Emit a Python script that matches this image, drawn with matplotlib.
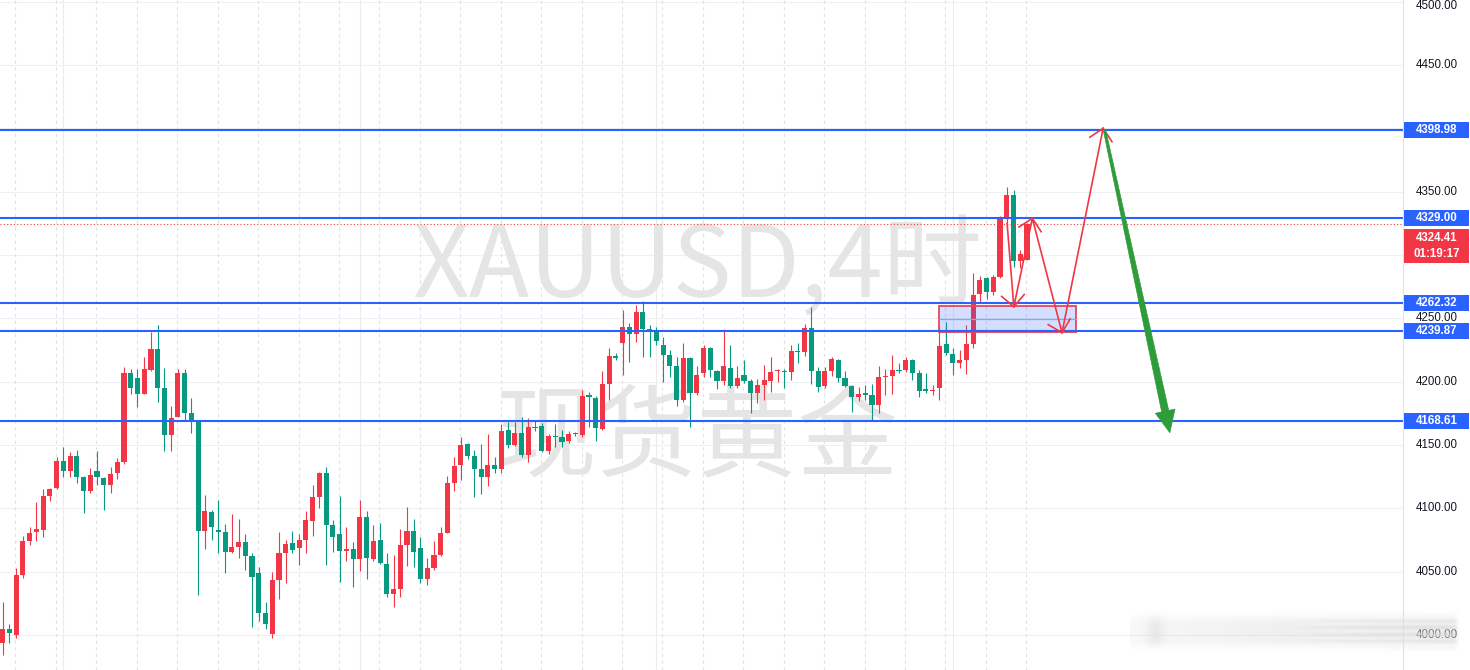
import numpy as np
import matplotlib
matplotlib.use('Agg')
import matplotlib.pyplot as plt
from matplotlib.patches import Rectangle, Polygon
from matplotlib.transforms import Affine2D
from matplotlib.lines import Line2D

# ---------------- data (XAUUSD 4H candles) ----------------
opens = [3993.5, 4004.4, 4000.0, 4047.4, 4074.4, 4081.5, 4083.0, 4109.7, 4115.8, 4137.3,
 4129.7, 4141.5, 4125.0, 4113.9, 4129.5, 4124.2, 4118.6, 4128.0, 4136.8, 4207.0,
 4203.0, 4190.2, 4209.5, 4225.7, 4194.7, 4157.9, 4172.3, 4207.0, 4175.0, 4168.4,
 4082.3, 4097.3, 4083.0, 4081.5, 4065.7, 4069.7, 4073.4, 4062.4, 4048.7, 4017.5,
 4000.8, 4043.4, 4065.0, 4072.4, 4068.6, 4075.0, 4090.3, 4109.1, 4127.6, 4086.8,
 4079.7, 4066.5, 4067.6, 4059.8, 4092.9, 4059.8, 4075.0, 4056.0, 4032.2, 4036.5,
 4071.0, 4082.0, 4068.6, 4044.0, 4052.6, 4063.0, 4080.7, 4120.2, 4134.2, 4150.8,
 4141.3, 4131.3, 4125.0, 4134.2, 4131.0, 4161.8, 4150.0, 4159.2, 4142.0, 4164.4,
 4165.0, 4145.5, 4157.3, 4156.5, 4153.3, 4159.2, 4157.8, 4189.4, 4186.8, 4162.4,
 4198.1, 4220.2, 4230.2, 4242.9, 4237.6, 4255.2, 4241.3, 4240.2, 4228.9, 4221.0,
 4212.3, 4185.5, 4218.4, 4191.3, 4207.0, 4226.3, 4208.6, 4200.7, 4210.5, 4196.5,
 4205.2, 4200.7, 4190.8, 4197.3, 4200.7, 4208.0, 4208.4, 4207.8, 4224.2, 4223.0,
 4242.1, 4208.6, 4196.5, 4208.6, 4217.0, 4202.6, 4196.5, 4187.6, 4190.8, 4189.4,
 4181.5, 4203.4, 4204.4, 4209.2, 4209.2, 4217.0, 4207.0, 4193.9, 4192.6, 4194.7,
 4229.7, 4221.8, 4214.4, 4217.0, 4229.7, 4269.2, 4281.5, 4270.9, 4282.3, 4329.7,
 4347.3, 4295.4, 4296.0]
highs = [4026.3, 4008.5, 4052.6, 4078.0, 4085.5, 4105.2, 4115.0, 4116.0, 4140.7, 4148.6,
 4144.7, 4146.0, 4125.5, 4132.0, 4145.5, 4125.0, 4132.9, 4140.0, 4211.3, 4209.7,
 4209.7, 4219.7, 4239.4, 4244.7, 4210.5, 4180.7, 4210.0, 4210.0, 4186.8, 4169.7,
 4110.5, 4099.0, 4106.5, 4087.6, 4095.5, 4091.3, 4080.0, 4064.4, 4053.9, 4026.0,
 4049.7, 4081.3, 4075.0, 4082.3, 4080.0, 4098.1, 4118.6, 4128.9, 4132.9, 4090.8,
 4109.7, 4085.0, 4073.4, 4106.5, 4098.1, 4086.8, 4088.6, 4064.4, 4063.0, 4083.4,
 4101.0, 4091.3, 4077.6, 4060.5, 4074.2, 4085.0, 4125.5, 4140.3, 4156.0, 4151.8,
 4146.0, 4150.7, 4158.6, 4140.3, 4166.5, 4168.4, 4168.2, 4172.3, 4171.0, 4169.1,
 4167.1, 4158.4, 4166.5, 4161.8, 4161.3, 4160.5, 4193.4, 4191.6, 4188.6, 4208.6,
 4226.3, 4222.3, 4256.5, 4246.5, 4260.5, 4263.9, 4244.7, 4242.9, 4235.4, 4225.0,
 4219.7, 4230.7, 4219.7, 4212.3, 4228.9, 4227.6, 4209.0, 4241.3, 4228.9, 4212.3,
 4217.0, 4201.8, 4201.8, 4213.1, 4219.2, 4210.0, 4209.7, 4228.9, 4230.7, 4245.5,
 4259.1, 4211.8, 4211.8, 4219.2, 4217.5, 4208.6, 4197.3, 4195.5, 4197.3, 4198.1,
 4212.3, 4209.7, 4221.0, 4214.9, 4219.2, 4217.5, 4209.2, 4206.6, 4197.3, 4243.7,
 4247.3, 4226.3, 4225.0, 4244.7, 4285.6, 4283.4, 4282.8, 4284.1, 4330.7, 4353.8,
 4351.2, 4303.9, 4325.0]
lows = [3984.0, 3994.0, 3998.0, 4045.0, 4071.0, 4074.4, 4077.6, 4105.8, 4115.0, 4124.5,
 4125.0, 4119.7, 4096.5, 4112.0, 4118.6, 4098.7, 4112.3, 4122.9, 4135.0, 4190.0,
 4180.2, 4190.0, 4208.6, 4184.0, 4145.5, 4145.5, 4172.0, 4169.7, 4159.2, 4031.6,
 4067.6, 4075.0, 4065.0, 4049.2, 4065.0, 4060.5, 4051.3, 4006.6, 4011.0, 4005.0,
 3998.0, 4028.6, 4040.8, 4065.0, 4055.3, 4064.4, 4077.9, 4100.5, 4055.3, 4065.3,
 4042.0, 4058.6, 4038.0, 4050.8, 4044.0, 4058.6, 4056.0, 4030.0, 4021.8, 4030.0,
 4054.5, 4054.0, 4040.8, 4039.4, 4051.3, 4062.4, 4080.2, 4113.9, 4122.3, 4138.7,
 4109.1, 4111.3, 4117.6, 4127.6, 4128.0, 4147.4, 4149.2, 4140.7, 4136.8, 4161.3,
 4144.7, 4142.6, 4148.2, 4148.6, 4151.3, 4157.0, 4156.5, 4164.4, 4153.3, 4161.8,
 4185.5, 4217.0, 4205.2, 4215.7, 4231.5, 4219.7, 4219.7, 4228.9, 4199.9, 4203.4,
 4180.7, 4184.0, 4163.9, 4189.4, 4203.4, 4203.4, 4193.9, 4197.3, 4194.7, 4194.7,
 4199.2, 4175.5, 4183.3, 4185.5, 4192.0, 4200.0, 4194.7, 4201.3, 4214.9, 4220.2,
 4198.1, 4192.0, 4194.7, 4204.4, 4200.0, 4195.5, 4176.2, 4185.0, 4185.5, 4169.7,
 4175.0, 4189.4, 4190.2, 4207.0, 4207.8, 4201.3, 4188.0, 4191.3, 4189.4, 4185.5,
 4221.0, 4205.2, 4210.5, 4206.0, 4226.3, 4262.3, 4265.0, 4268.4, 4281.5, 4322.3,
 4290.7, 4289.4, 4296.0]
closes = [4004.7, 4001.3, 4047.4, 4074.4, 4080.3, 4083.3, 4109.7, 4115.5, 4137.6, 4129.7,
 4141.5, 4125.0, 4113.9, 4126.3, 4124.5, 4118.6, 4127.0, 4136.8, 4206.6, 4194.7,
 4190.2, 4210.0, 4225.7, 4195.2, 4157.9, 4171.0, 4207.0, 4175.0, 4168.4, 4082.3,
 4097.9, 4085.0, 4081.7, 4065.7, 4069.2, 4073.4, 4062.4, 4045.6, 4017.5, 4008.4,
 4043.4, 4065.0, 4071.8, 4067.0, 4075.0, 4090.8, 4109.1, 4128.1, 4087.0, 4077.6,
 4066.5, 4067.6, 4059.8, 4092.9, 4060.5, 4074.2, 4056.7, 4032.2, 4036.0, 4071.0,
 4082.0, 4065.7, 4044.0, 4052.6, 4063.0, 4080.2, 4120.2, 4133.4, 4150.0, 4141.3,
 4131.3, 4125.0, 4134.2, 4130.8, 4160.8, 4150.0, 4159.2, 4142.0, 4164.4, 4163.6,
 4145.5, 4157.3, 4156.5, 4152.6, 4158.6, 4158.4, 4188.6, 4187.6, 4163.1, 4198.1,
 4220.2, 4218.4, 4242.9, 4237.6, 4255.2, 4241.3, 4240.2, 4232.3, 4221.0, 4212.3,
 4185.5, 4218.4, 4190.8, 4205.2, 4226.3, 4209.2, 4200.7, 4212.3, 4196.5, 4202.6,
 4200.7, 4190.8, 4197.3, 4201.3, 4207.8, 4209.0, 4207.6, 4224.2, 4223.2, 4242.1,
 4208.6, 4196.0, 4208.6, 4217.6, 4202.6, 4196.5, 4187.6, 4190.2, 4189.7, 4181.5,
 4203.4, 4204.4, 4209.2, 4208.1, 4217.0, 4207.0, 4192.8, 4192.8, 4193.6, 4228.1,
 4222.3, 4214.4, 4217.0, 4229.7, 4268.4, 4280.2, 4270.9, 4282.3, 4329.7, 4347.3,
 4295.4, 4300.7, 4324.41]

level_prices = [4398.98, 4329.00, 4262.32, 4239.87, 4168.61]
last_price = 4324.41
countdown = "01:19:17"
tick_prices = [4500, 4450, 4400, 4350, 4300, 4250, 4200, 4150, 4100, 4050, 4000]
zone_x = [139.0, 159.3]
zone_y = [4239.4, 4259.7]
path_x = [149.05, 150.05, 152.8, 157.2, 163.3]
path_y = [4324.9, 4259.1, 4328.9, 4238.6, 4399.9]
green_x = [163.5, 173.2]
green_y = [4398.6, 4159.7]
session_idx = [1.9 + 6 * k for k in range(26)]
major_idx = [9, 53, 97, 141]
watermark1 = 'XAUUSD,4时'
watermark2 = '现货黄金'

# ---------------- figure ----------------
W, H = 1470, 670
AX_W = 1403
fig = plt.figure(figsize=(W / 100, H / 100), dpi=100)
fig.patch.set_facecolor('white')
ax = fig.add_axes([0, 0, AX_W / W, 1])
ax.set_xlim(-0.4, 207.8)
ax.set_ylim(3972.4, 4501.2)
ax.axis('off')

pxT = Affine2D().scale(1 / W, -1 / H).translate(0, 1) + fig.transFigure


def d2p(x, y):
    X, Y = ax.transData.transform((x, y))
    return np.array([X, H - Y])


# grid
for p in tick_prices:
    ax.axhline(p, color='#eef0f3', lw=0.8, zorder=0.2)
for i in session_idx:
    ax.axvline(i, color='#e2e2e2', lw=0.8, ls=(0, (3, 3)), zorder=0.2)
for i in major_idx:
    ax.axvline(i, color='#ececec', lw=0.8, zorder=0.2)

# watermark
ax.text(697, 297, watermark1, transform=pxT, ha='center', va='baseline', fontsize=71.5,
        color='#e5e5e5', family=['Noto Sans CJK SC', 'DejaVu Sans'], zorder=0.5, clip_on=False)
ax.text(697, 468, watermark2, transform=pxT, ha='center', va='baseline', fontsize=72.5,
        color='#e5e5e5', family=['Noto Sans CJK SC', 'DejaVu Sans'], zorder=0.5, clip_on=False)

# candles
o = np.array(opens); h = np.array(highs); l = np.array(lows); c = np.array(closes)
x = np.arange(len(o))
up = c >= o
cols = np.where(up, '#f23645', '#089981')
ax.vlines(x, l, h, colors=cols, lw=0.8, zorder=2)
bottom = np.minimum(o, c)
height = np.maximum(np.abs(c - o), 0.8)
ax.bar(x, height, width=0.76, bottom=bottom, color=cols, linewidth=0, zorder=2.1)

# horizontal levels
for p in level_prices:
    ax.axhline(p, color='#2962ff', lw=1.5, zorder=4)
ax.axhline(last_price, color='#f23645', lw=0.8, ls=(0, (1, 2)), zorder=3.9)

# zone rectangle
ax.add_patch(Rectangle((zone_x[0], zone_y[0]), zone_x[1] - zone_x[0], zone_y[1] - zone_y[0],
                       facecolor=(0.16, 0.38, 1.0, 0.2), edgecolor='#e8455a', lw=1.3, zorder=3))
mid = (zone_y[0] + zone_y[1]) / 2
ax.plot(zone_x, [mid, mid], color='#8aa4f3', lw=0.9, zorder=3.1)

# red path with arrow heads
ax.plot(path_x, path_y, color='#f23645', lw=1.2, zorder=5, solid_joinstyle='miter')
pts = [d2p(a, b) for a, b in zip(path_x, path_y)]
for i in range(1, len(pts)):
    tip = pts[i]
    d = tip - pts[i - 1]
    d = d / np.hypot(*d)
    back = -d
    for ang in (np.pi / 4, -np.pi / 4):
        ca, sa = np.cos(ang), np.sin(ang)
        v = np.array([ca * back[0] - sa * back[1], sa * back[0] + ca * back[1]]) * 16
        e = tip + v
        fig.add_artist(Line2D([tip[0], e[0]], [tip[1], e[1]], transform=pxT,
                              color='#f23645', lw=1.2, zorder=2))

# green arrow (tapered)
S = d2p(green_x[0], green_y[0]); T = d2p(green_x[1], green_y[1])
u = (T - S) / np.hypot(*(T - S)); n = np.array([u[1], -u[0]])
B = T - 22 * u
poly = [S + 1.2 * n, B + 3.6 * n, B + 10 * n, T, B - 10 * n, B - 3.6 * n, S - 1.2 * n]
fig.add_artist(Polygon(poly, closed=True, transform=pxT, facecolor='#2e9c3a',
                       edgecolor='#2e9c3a', lw=0.5, zorder=2))

# right price scale
fig.add_artist(Line2D([1403.5, 1403.5], [0, H], transform=pxT, color='#e0e3eb', lw=0.8, zorder=1))
for p in tick_prices:
    yp = max(d2p(0, p)[1], 6)
    fig.text(1436.5, yp, f'{p:.2f}', transform=pxT, ha='center', va='center', fontsize=8.3,
             color='#131722', family='Liberation Sans', zorder=3)
for p in level_prices:
    yp = d2p(0, p)[1]
    fig.add_artist(Rectangle((1404.5, yp - 8), 64.5, 16, transform=pxT, facecolor='#2962ff',
                             edgecolor='none', zorder=4))
    fig.text(1436.5, yp, f'{p:.2f}', transform=pxT, ha='center', va='center', fontsize=8.3,
             color='white', family='Liberation Sans', fontweight='bold', zorder=5)
top = d2p(0, level_prices[1])[1] + 11
fig.add_artist(Rectangle((1404.5, top), 64.5, 33.5, transform=pxT, facecolor='#f23645',
                         edgecolor='none', zorder=4))
fig.text(1436.5, top + 8.5, f'{last_price:.2f}', transform=pxT, ha='center', va='center',
         fontsize=8.3, color='white', family='Liberation Sans', fontweight='bold', zorder=5)
fig.text(1436.5, top + 25, countdown, transform=pxT, ha='center', va='center',
         fontsize=8.3, color='white', family='Liberation Sans', fontweight='bold', zorder=5)

# blurred overlay at bottom right
ys = np.arange(606, 658)[:, None].astype(float)
xs = np.arange(1130, 1460)[None, :].astype(float)
ay = np.exp(-((ys - 631) / 15) ** 4)
axp = (0.2 + 0.45 * np.clip((xs - 1130) / 300, 0, 1)) * np.clip((1459 - xs) / 5, 0, 1)
axp = axp + 0.35 * np.exp(-((xs - 1155) / 9) ** 2)
mod = 1 + 0.25 * np.cos(2 * np.pi * (ys - 620) / 7) * np.clip((xs - 1290) / 40, 0, 1)
alpha = np.clip(ay * axp * mod, 0, 0.85)
img = np.zeros((ys.shape[0], xs.shape[1], 4))
img[..., 0:3] = 0.86
img[..., 3] = alpha
fig.figimage(img, xo=1130, yo=H - 658, origin='upper', zorder=6)

fig.savefig('out.png', dpi=100, facecolor='white')
